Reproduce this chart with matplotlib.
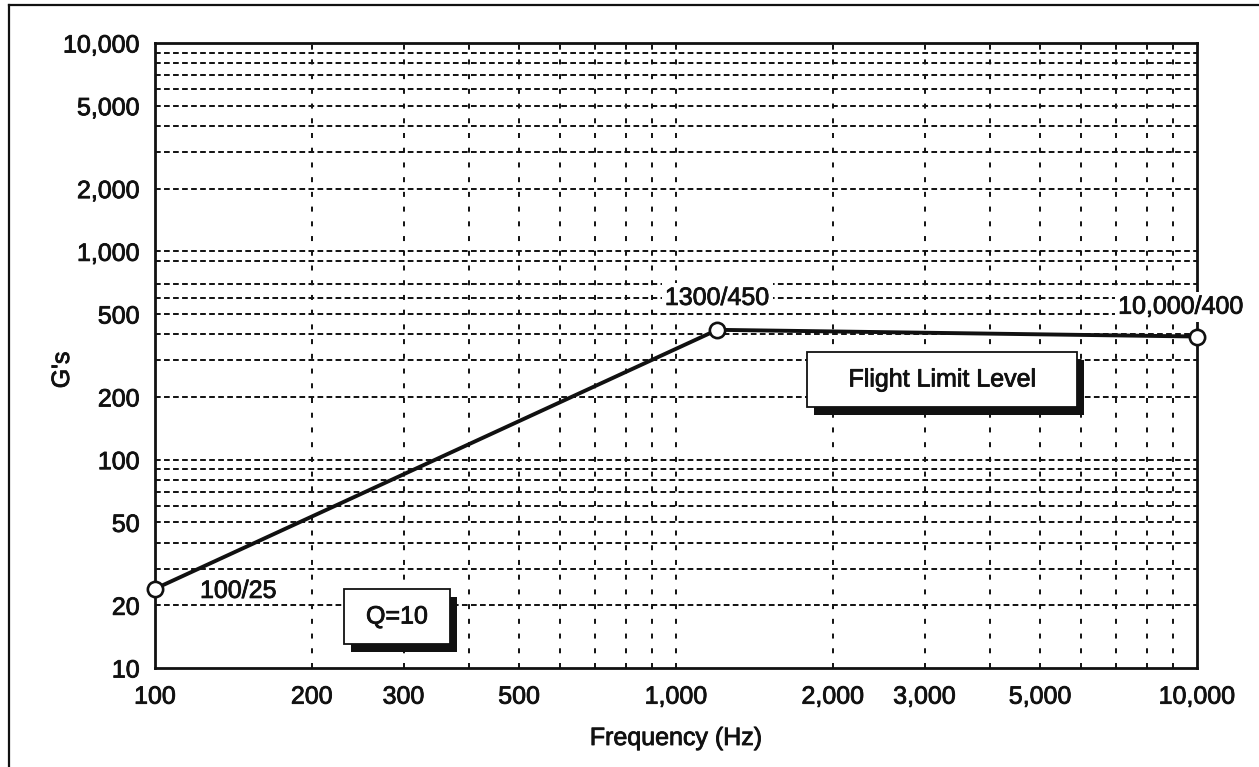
import matplotlib
matplotlib.use('Agg')
import matplotlib.pyplot as plt
import matplotlib.patheffects as pe
from matplotlib.lines import Line2D
from matplotlib.patches import Rectangle

plt.rcParams['font.family'] = ['Liberation Sans', 'DejaVu Sans']
plt.rcParams['lines.scale_dashes'] = False

# flight limit curve, as drawn
freq = [100, 1200, 10000]
gs = [24, 420, 390]
point_labels = ['100/25', '1300/450', '10,000/400']

x_ticks = [100, 200, 300, 500, 1000, 2000, 3000, 5000, 10000]
y_ticks = [10, 20, 50, 100, 200, 500, 1000, 2000, 5000, 10000]
x_grid = [200, 300, 400, 500, 600, 700, 800, 900, 1000,
          2000, 3000, 4000, 5000, 6000, 7000, 8000, 9000]
y_grid = [20, 30, 40, 50, 60, 70, 80, 90, 100,
          200, 300, 400, 500, 600, 700, 900, 1000,
          2000, 3000, 4000, 5000, 6000, 7000, 8000, 9000]

ink = '#111111'
bold = [pe.withStroke(linewidth=0.6, foreground=ink)]

W, H = 1259, 767
fig = plt.figure(figsize=(W / 100, H / 100), dpi=100)
L, R, T, B = 155, 1197, 43, 668
ax = fig.add_axes([L / W, 1 - B / H, (R - L) / W, (B - T) / H])
ax.set_xscale('log')
ax.set_yscale('log')
ax.set_xlim(100, 10000)
ax.set_ylim(10, 10000)

ax.set_xticks(x_ticks)
ax.set_xticklabels([f'{v:,}' for v in x_ticks])
ax.set_yticks(y_ticks)
ax.set_yticklabels([f'{v:,}' for v in y_ticks])
ax.set_xticks(x_grid, minor=True)
ax.set_yticks(y_grid, minor=True)
ax.tick_params(which='both', length=0, labelsize=18, colors=ink)
ax.tick_params(axis='x', pad=12)
ax.tick_params(axis='y', pad=11)
for lab in ax.get_xticklabels() + ax.get_yticklabels():
    lab.set_path_effects(bold)

for v in x_grid:
    ax.axvline(v, color=ink, lw=1.4, ls=(0, (3.6, 7.0)), zorder=1)
for v in y_grid:
    ax.axhline(v, color=ink, lw=1.4, ls=(0, (4.1, 2.4)), zorder=1)

for s in ax.spines.values():
    s.set_linewidth(2.0)
    s.set_color(ink)
    s.set_zorder(3)

ax.plot(freq, gs, color=ink, lw=2.8, zorder=4, clip_on=False)
ax.plot(freq, gs, 'o', ms=11, mfc='white', mec=ink, mew=1.9,
        zorder=5, clip_on=False)

offsets = [(60, -1.5), (0, 23), (-11.5, 21.5)]
masked = [False, True, True]
for f, g, lab, off, m in zip(freq, gs, point_labels, offsets, masked):
    box = dict(boxstyle='square,pad=0.12', fc='white', ec='none') if m else None
    t = ax.annotate(lab, (f, g), xytext=off, textcoords='offset points',
                    ha='center', va='center', fontsize=18, color=ink,
                    annotation_clip=False, zorder=6, bbox=box)
    t.set_path_effects(bold)


def shadow_box(x0, y0, x1, y1, text):
    # pixel box -> axes fraction, black drop shadow down-right
    tr = ax.transAxes
    ax0, ax1 = (x0 - L) / (R - L), (x1 - L) / (R - L)
    ay0, ay1 = (B - y1) / (B - T), (B - y0) / (B - T)
    dx, dy = 7 / (R - L), 8 / (B - T)
    ax.add_patch(Rectangle((ax0 + dx, ay0 - dy), ax1 - ax0, ay1 - ay0,
                           transform=tr, fc=ink, ec='none', zorder=6))
    ax.add_patch(Rectangle((ax0, ay0), ax1 - ax0, ay1 - ay0, transform=tr,
                           fc='white', ec=ink, lw=1.3, zorder=7))
    t = ax.text((ax0 + ax1) / 2, (ay0 + ay1) / 2, text, transform=tr,
                ha='center', va='center', fontsize=18, color=ink, zorder=8)
    t.set_path_effects(bold)


shadow_box(344, 589, 450, 644, 'Q=10')
shadow_box(807, 352, 1077, 407, 'Flight Limit Level')

ax.set_xlabel('Frequency (Hz)', fontsize=18, color=ink)
ax.xaxis.set_label_coords(0.5, (B - 738) / (B - T), transform=ax.transAxes)
ax.set_ylabel("G's", fontsize=18, color=ink)
ax.yaxis.set_label_coords((62 - L) / (R - L), (B - 370) / (B - T), transform=ax.transAxes)
ax.xaxis.label.set_va('center')
ax.yaxis.label.set_va('center')
ax.xaxis.label.set_path_effects(bold)
ax.yaxis.label.set_path_effects(bold)

# page frame (top and left edges of the scanned figure box)
fx, fy = 9 / W, 1 - 5 / H
fig.add_artist(Line2D([fx, fx], [0, fy], color=ink, lw=1.6))
fig.add_artist(Line2D([fx, 1], [fy, fy], color=ink, lw=1.6))

fig.savefig('out.png', dpi=100)
